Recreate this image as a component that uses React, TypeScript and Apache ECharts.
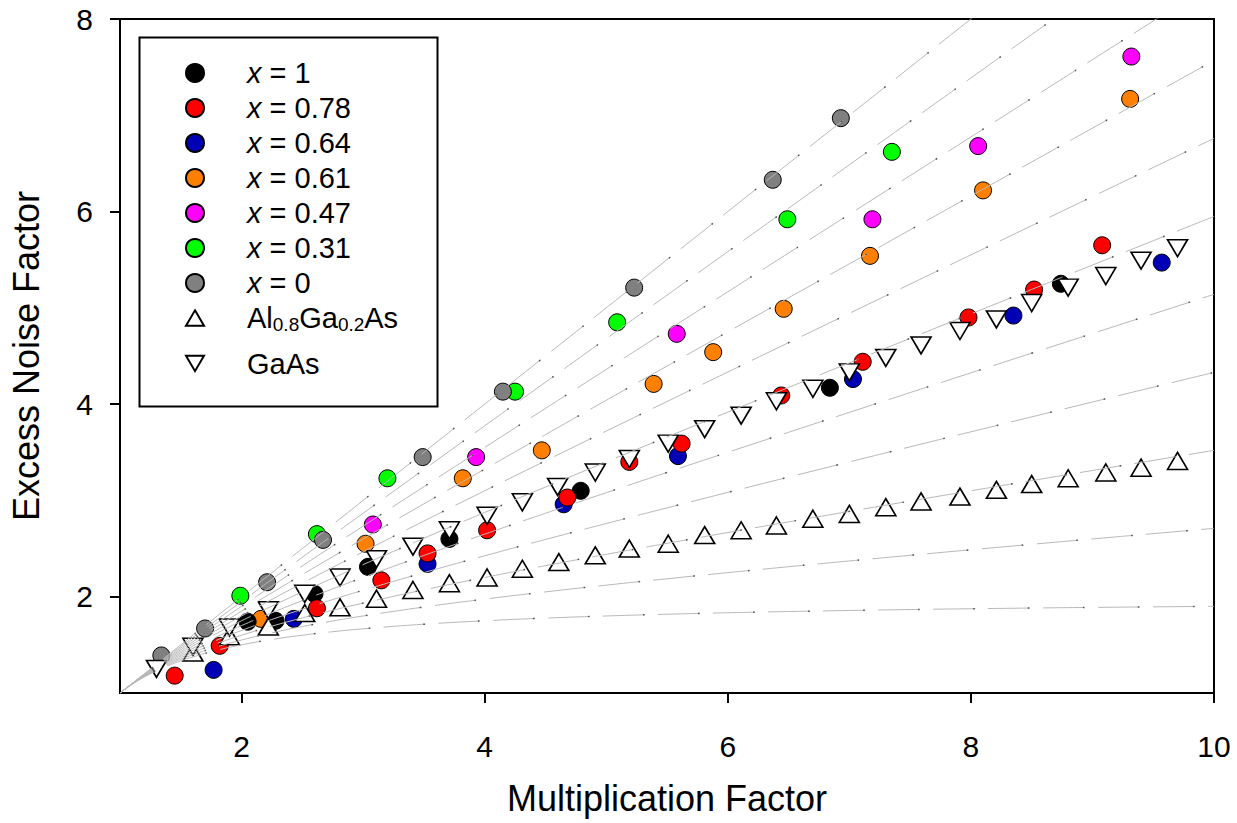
import React, { useEffect, useRef } from "react";
import * as echarts from "echarts";

// ---------- data ----------
const seriesNames = ["x = 1", "x = 0.78", "x = 0.64", "x = 0.61", "x = 0.47", "x = 0.31", "x = 0", "Al0.8Ga0.2As", "GaAs"];
const seriesColors = ["#000000", "#ff0000", "#0000b4", "#ff8000", "#ff00ff", "#00ff00", "#808080"];

const x1M = [2.05, 2.28, 2.60, 3.04, 3.71, 4.79, 6.84, 8.74];
const x1F = [1.74, 1.75, 2.03, 2.31, 2.60, 3.10, 4.17, 5.25];

const x078M = [1.45, 1.82, 2.62, 3.15, 3.53, 4.02, 4.68, 5.19, 5.62, 6.44, 7.11, 7.98, 8.52, 9.08];
const x078F = [1.18, 1.49, 1.88, 2.17, 2.45, 2.69, 3.03, 3.40, 3.59, 4.09, 4.44, 4.90, 5.19, 5.65];

const x064M = [1.77, 2.43, 3.53, 4.65, 5.59, 7.03, 8.35, 9.57];
const x064F = [1.24, 1.77, 2.34, 2.96, 3.46, 4.26, 4.92, 5.47];

const x061M = [2.16, 3.02, 3.82, 4.47, 5.39, 5.88, 6.46, 7.17, 8.10, 9.31];
const x061F = [1.77, 2.55, 3.23, 3.52, 4.21, 4.54, 4.99, 5.54, 6.22, 7.17];

const x047M = [3.08, 3.93, 5.58, 7.19, 8.06, 9.32];
const x047F = [2.75, 3.45, 4.73, 5.92, 6.68, 7.61];

const x031M = [1.99, 2.62, 3.20, 4.25, 5.09, 6.49, 7.35];
const x031F = [2.01, 2.65, 3.23, 4.13, 4.85, 5.92, 6.62];

const x0M = [1.34, 1.70, 2.21, 2.67, 3.49, 4.15, 5.23, 6.37, 6.93];
const x0F = [1.39, 1.67, 2.15, 2.59, 3.45, 4.13, 5.21, 6.33, 6.97];

const alM = [1.60, 1.90, 2.22, 2.52, 2.81, 3.11, 3.41, 3.71, 4.02, 4.31, 4.61, 4.91, 5.19, 5.51, 5.81, 6.11, 6.40, 6.70, 7.00, 7.30, 7.59, 7.91, 8.21, 8.50, 8.80, 9.11, 9.40, 9.70];
const alF = [1.42, 1.59, 1.69, 1.83, 1.89, 1.98, 2.07, 2.14, 2.20, 2.29, 2.36, 2.43, 2.50, 2.55, 2.64, 2.69, 2.74, 2.81, 2.86, 2.93, 2.99, 3.04, 3.11, 3.17, 3.23, 3.29, 3.34, 3.41];

const gaasM = [1.30, 1.60, 1.90, 2.22, 2.52, 2.81, 3.11, 3.41, 3.71, 4.02, 4.31, 4.60, 4.91, 5.19, 5.51, 5.81, 6.11, 6.40, 6.70, 7.00, 7.30, 7.59, 7.91, 8.21, 8.50, 8.80, 9.11, 9.40, 9.70];
const gaasF = [1.25, 1.48, 1.68, 1.86, 2.03, 2.20, 2.39, 2.52, 2.69, 2.84, 2.98, 3.14, 3.29, 3.43, 3.59, 3.74, 3.88, 4.03, 4.16, 4.33, 4.48, 4.61, 4.76, 4.88, 5.05, 5.21, 5.33, 5.49, 5.62];

// McIntyre local-model k values of the grey dashed reference curves
const kValues = [0, 0.1, 0.2, 0.3, 0.4, 0.5, 0.6, 0.7, 0.8, 0.9, 1.0];
const curveM = [1, 1.05, 1.1, 1.15, 1.2, 1.3, 1.4, 1.5, 1.6, 1.8, 2, 2.25, 2.5, 2.75, 3, 3.5, 4, 4.5, 5, 5.5, 6, 6.5, 7, 7.5, 8, 8.5, 9, 9.5, 10];

const xTicks = [2, 4, 6, 8, 10];
const yTicks = [2, 4, 6, 8];

const FONT = "'Liberation Sans', Arial, sans-serif";

const zip = (a: number[], b: number[]) => a.map((v, i) => [v, b[i]]);
const mcintyre = (k: number, m: number) => k * m + (1 - k) * (2 - 1 / m);

const legendLabels: Record<string, string> = {
  "x = 1": "{i|x} = 1",
  "x = 0.78": "{i|x} = 0.78",
  "x = 0.64": "{i|x} = 0.64",
  "x = 0.61": "{i|x} = 0.61",
  "x = 0.47": "{i|x} = 0.47",
  "x = 0.31": "{i|x} = 0.31",
  "x = 0": "{i|x} = 0",
  "Al0.8Ga0.2As": "Al{sub|0.8}Ga{sub|0.2}As",
  GaAs: "GaAs",
};

const UP_TRI = "path://M10,0 L20,17 L0,17 Z";
const DOWN_TRI = "path://M0,0 L20,0 L10,17 Z";

export default function App() {
  const ref = useRef<HTMLDivElement>(null);

  useEffect(() => {
    if (!ref.current) return;
    const chart = echarts.init(ref.current, undefined, { renderer: "svg" });

    const circleSets = [
      [x1M, x1F], [x078M, x078F], [x064M, x064F], [x061M, x061F],
      [x047M, x047F], [x031M, x031F], [x0M, x0F],
    ];
    const circleZ = [3, 4, 2, 2, 3, 2, 3];

    const circleSeries = circleSets.map((s, i) => ({
      name: seriesNames[i],
      type: "scatter",
      data: zip(s[0], s[1]),
      symbol: "circle",
      symbolSize: 17,
      z: circleZ[i],
      itemStyle: { color: seriesColors[i], borderColor: "#000", borderWidth: 1, opacity: 1 },
      emphasis: { disabled: true },
    }));

    const triSeries = [
      {
        name: seriesNames[7],
        type: "scatter",
        data: zip(alM, alF),
        symbol: "triangle",
        symbolSize: [20, 17],
        z: 5,
        itemStyle: { color: "#fff", borderColor: "#000", borderWidth: 1.6, opacity: 1 },
        emphasis: { disabled: true },
      },
      {
        name: seriesNames[8],
        type: "scatter",
        data: zip(gaasM, gaasF),
        symbol: "triangle",
        symbolRotate: 180,
        symbolSize: [20, 17],
        z: 5,
        itemStyle: { color: "#fff", borderColor: "#000", borderWidth: 1.6, opacity: 1 },
        emphasis: { disabled: true },
      },
    ];

    const curveSeries = kValues.map((k) => ({
      name: "k" + k,
      type: "line",
      data: curveM.map((m) => [m, mcintyre(k, m)]),
      showSymbol: false,
      smooth: true,
      silent: true,
      clip: true,
      z: 6,
      lineStyle: { color: "#b8b8b8", width: 1, type: [42, 13] },
      emphasis: { disabled: true },
    }));

    const curveDots = kValues.map((k) => ({
      name: "d" + k,
      type: "line",
      data: curveM.map((m) => [m, mcintyre(k, m)]),
      showSymbol: false,
      smooth: true,
      silent: true,
      clip: true,
      z: 6,
      lineStyle: { color: "#555", width: 1.5, type: [1.5, 53.5], dashOffset: 14.5 },
      emphasis: { disabled: true },
    }));

    const legendItemBase = {
      left: 0,
    };
    void legendItemBase;

    chart.setOption({
      animation: false,
      backgroundColor: "#fff",
      grid: { left: 120, right: 23, top: 19, bottom: 130, show: true, borderColor: "#000", borderWidth: 2, backgroundColor: "transparent" },
      xAxis: {
        type: "value",
        min: 1,
        max: 10,
        name: "Multiplication Factor",
        nameLocation: "middle",
        nameGap: 87,
        nameTextStyle: { fontFamily: FONT, fontSize: 36, color: "#000" },
        axisLine: { show: true, onZero: false, lineStyle: { color: "#000", width: 2 } },
        axisTick: { show: true, length: 10, customValues: xTicks, lineStyle: { color: "#000", width: 2 } },
        axisLabel: { customValues: xTicks, margin: 38, fontFamily: FONT, fontSize: 30, color: "#000" },
        splitLine: { show: false },
      },
      yAxis: {
        type: "value",
        min: 1,
        max: 8,
        name: "Excess Noise Factor",
        nameLocation: "middle",
        nameGap: 76,
        nameTextStyle: { fontFamily: FONT, fontSize: 36, color: "#000" },
        axisLine: { show: true, onZero: false, lineStyle: { color: "#000", width: 2 } },
        axisTick: { show: true, length: 10, customValues: yTicks, lineStyle: { color: "#000", width: 2 } },
        axisLabel: { customValues: yTicks, margin: 27, fontFamily: FONT, fontSize: 30, color: "#000" },
        splitLine: { show: false },
      },
      legend: {
        data: seriesNames.map((n) => {
          if (n === "GaAs") return { name: n, icon: DOWN_TRI, textStyle: { lineHeight: 50 } };
          if (n === "Al0.8Ga0.2As") return { name: n, icon: UP_TRI };
          return { name: n };
        }),
        orient: "vertical",
        left: 185,
        top: 58,
        padding: 0,
        itemWidth: 18,
        itemHeight: 18,
        itemGap: 5,
        selectedMode: false,
        formatter: (name: string) => legendLabels[name] || name,
        textStyle: {
          fontFamily: FONT,
          fontSize: 29,
          color: "#000",
          lineHeight: 30,
          padding: [0, 0, 0, 38],
          rich: {
            i: { fontStyle: "italic", fontFamily: FONT, fontSize: 29, color: "#000" },
            sub: { fontFamily: FONT, fontSize: 19, color: "#000", padding: [12, 0, 0, 0] },
          },
        },
      },
      graphic: [
        {
          type: "rect",
          left: 137,
          top: 35,
          shape: { width: 298, height: 369 },
          style: { fill: "none", stroke: "#000", lineWidth: 2 },
          silent: true,
          z: 10,
        },
      ],
      series: [...circleSeries, ...triSeries, ...curveSeries, ...curveDots],
    });

    return () => chart.dispose();
  }, []);

  return <div ref={ref} style={{ position: "absolute", left: 0, top: 0, width: 1237, height: 823 }} />;
}
